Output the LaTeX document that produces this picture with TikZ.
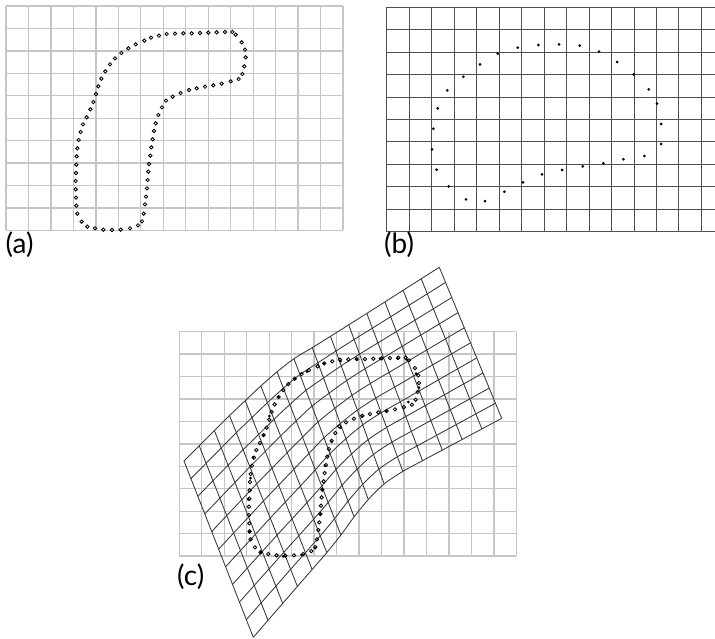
\documentclass[tikz,border=0pt]{standalone}
\usepackage{fontspec}
\setmainfont{Lato}
\usetikzlibrary{calc}
\definecolor{lightgrid}{RGB}{198,198,198}
\definecolor{darkgrid}{RGB}{80,80,80}
\definecolor{warpgrid}{RGB}{55,55,55}
\begin{document}
\begin{tikzpicture}[x=1pt,y=-1pt,
  lgrid/.style={draw=lightgrid,line width=1.3pt},
  dgrid/.style={draw=darkgrid,line width=0.9pt},
  wgrid/.style={draw=warpgrid,line width=0.85pt},
  opendot/.style={draw=black,line width=0.8pt},
  lab/.style={font=\fontsize{28}{30}\selectfont,inner sep=0pt,anchor=west}]
\useasboundingbox (0,0) rectangle (715,638);
% ---------- (a)
\foreach \i in {0,...,15} \draw[lgrid] ({6+\i*22.47},6) -- ({6+\i*22.47},230.4);
\foreach \j in {0,...,10} \draw[lgrid] (6,{6+\j*22.44}) -- (343,{6+\j*22.44});
\def\ashape{433/122,453/113,477/107,500/102,525/101,550/100,575/100,600/99,625/98,650/97,675/96,697/96,707/104,725/127,735/149,737/172,733/199,727/222,716/237,692/244,665/251,640/256,615/260,590/265,567/270,542/279,518/290,498/302,486/322,475/345,467/370,462/393,458/418,454/442,451/467,447/492,445/515,443/540,441/565,438/590,435/613,431/641,426/664,414/676,390/685,362/689,336/690,310/689,285/685,262/680,245/665,232/641,229/617,228/593,227/568,227/543,228/519,229/494,230/469,232/445,236/420,242/396,249/373,260/352,271/328,280/306,288/282,295/259,304/236,316/214,330/193,345/175,364/159,385/145,407/133}
\foreach \x/\y in \ashape \draw[opendot] ({\x/3},{\y/3}) circle[radius=1.7pt];
\node[lab] (la) at (5.5,245) {(a)};
% ---------- (b)
\begin{scope}
\clip (0,0) rectangle (715,638);
\foreach \i in {0,...,15} \draw[dgrid] ({386.7+\i*22.48},7.3) -- ({386.7+\i*22.48},231.7);
\foreach \j in {0,...,10} \draw[dgrid] (386.7,{7.3+\j*22.44}) -- (724,{7.3+\j*22.44});
\end{scope}
\foreach \x/\y in {473/143,535/135,597/133,659/137,717/155,771/186,821/223,866/268,891/311,903/372,903/432,853/468,790/478,730/490,668/499,606/510,546/523,489/547,433/575,375/603,318/598,266/559,230/509,216/448,220/386,233/325,262/271,310/230,360/193,413/161}
  \fill ({360+\x/3},{\y/3}) circle[radius=1.5pt];
\node[lab] (lb) at (384,245) {(b)};
% ---------- (c) reference grid
\foreach \i in {0,...,15} \draw[lgrid] ({179.3+\i*22.47},331.7) -- ({179.3+\i*22.47},556.1);
\foreach \j in {0,...,10} \draw[lgrid] (179.3,{331.7+\j*22.44}) -- (516.4,{331.7+\j*22.44});
% ---------- (c) warped grid (discrete Coons patch)
\coordinate (C00) at (184,461);
\coordinate (C10) at (439.3,267.3);
\coordinate (C01) at (253.3,637.3);
\coordinate (C11) at (501.7,418.3);
\foreach \k/\x/\y in {0/184/461,1/199.2/445.8,2/214.4/430.6,3/229.5/415.5,4/245.2/400.7,5/260.8/386.0,6/277.0/371.9,7/293.9/358.7,8/312.3/347.6,9/330.5/336.3,10/348.7/324.8,11/366.8/313.4,12/384.9/301.9,13/403.1/290.3,14/421.2/278.8,15/439.3/267.3}
  \coordinate (T\k) at (\x,\y);
\foreach \k/\x/\y in {0/253.3/637.3,1/268.0/620.3,2/282.7/603.4,3/297.4/586.4,4/312.1/569.5,5/326.8/552.5,6/340.9/535.0,7/354.1/516.9,8/368.3/499.5,9/384.2/483.9,10/402.8/471.4,11/422.5/460.7,12/442.3/450.1,13/462.1/439.5,14/481.9/428.9,15/501.7/418.3}
  \coordinate (B\k) at (\x,\y);
\foreach \j in {0,...,10}{
  \coordinate (L\j) at ($(C00)!\j/10!(C01)$);
  \coordinate (R\j) at ($(C10)!\j/10!(C11)$);
}
\foreach \i in {0,...,15}{
  \foreach \j in {0,...,10}{
    \pgfmathsetmacro\uu{\i/15}
    \pgfmathsetmacro\vv{\j/10}
    \pgfmathsetmacro\cA{1-\vv}
    \pgfmathsetmacro\cB{\vv}
    \pgfmathsetmacro\cC{1-\uu}
    \pgfmathsetmacro\cD{\uu}
    \pgfmathsetmacro\cE{(1-\uu)*(1-\vv)}
    \pgfmathsetmacro\cF{\uu*(1-\vv)}
    \pgfmathsetmacro\cG{(1-\uu)*\vv}
    \pgfmathsetmacro\cH{\uu*\vv}
    \coordinate (N\i-\j) at ($\cA*(T\i)+\cB*(B\i)+\cC*(L\j)+\cD*(R\j)-\cE*(C00)-\cF*(C10)-\cG*(C01)-\cH*(C11)$);
  }
}
\foreach \j in {0,...,10}{
  \gdef\pts{}
  \foreach \i in {0,...,15}{\xdef\pts{\pts (N\i-\j)}}
  \edef\tmp{\noexpand\draw[wgrid] plot[smooth] coordinates {\pts};}\tmp
}
\foreach \i in {0,...,15}{
  \gdef\pts{}
  \foreach \j in {0,...,10}{\xdef\pts{\pts (N\i-\j)}}
  \edef\tmp{\noexpand\draw[wgrid] plot[smooth] coordinates {\pts};}\tmp
}
% ---------- (c) dots
\foreach \x/\y in \ashape \draw[opendot] ({\x/3+173.3},{\y/3+325.7}) circle[radius=1.7pt];
\foreach \x/\y in {278.3/397.5,295/379,307/371.5,324/363.5,340.5/361,357/359.5,380/358.5,397.7/358.5,406.7/359.5,416/373.5,419/387.5,408.3/402,386/411,362/416.7,340.7/427.7,331.7/441.7,325/465.7,322.5/490.2,320.3/514.5,315/548,301.7/554.7,283.3/556.3,261/552,249.3/532,248.3/499.3,250.5/478,253/457.3,263.3/435.7,269.3/416}
  \fill (\x,\y) circle[radius=1.5pt];
\node[lab] (lc) at (177,577) {(c)};
\end{tikzpicture}
\end{document}
